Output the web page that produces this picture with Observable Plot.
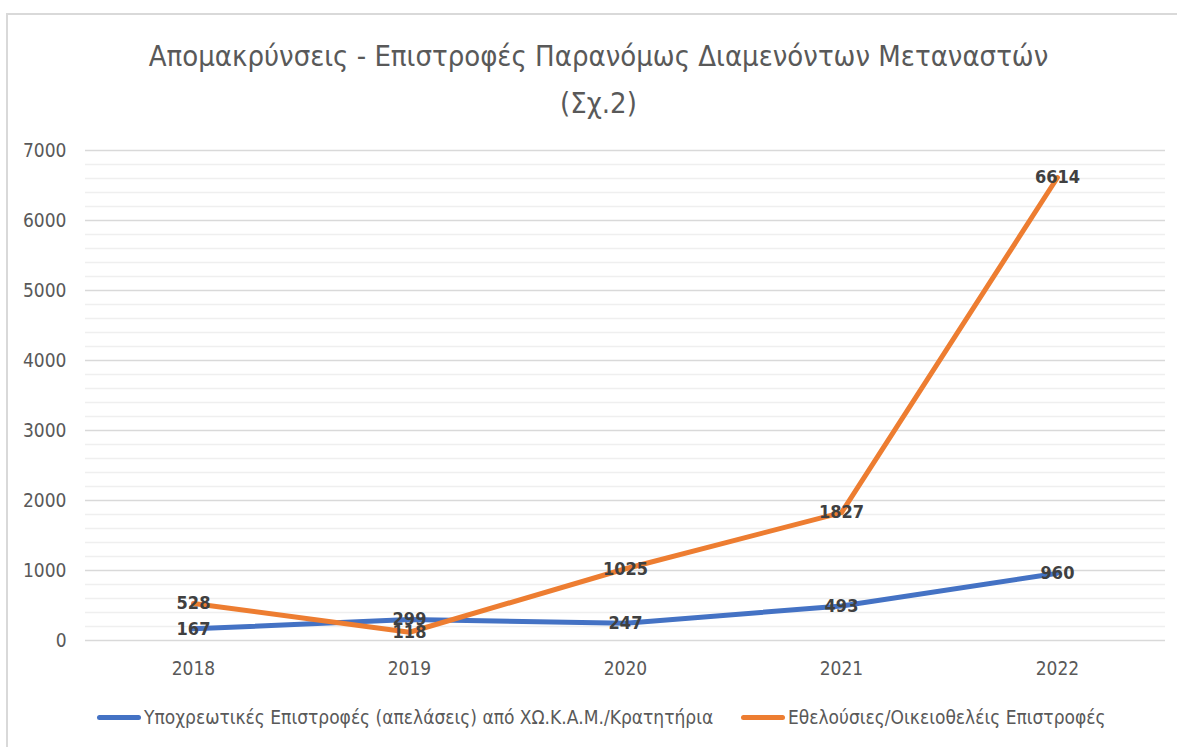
<!DOCTYPE html>
<html>
<head>
<meta charset="utf-8">
<script src="https://cdn.jsdelivr.net/npm/d3@7"></script>
<script src="https://cdn.jsdelivr.net/npm/@observablehq/plot@0.6"></script>
<style>
  html, body { margin: 0; padding: 0; background: #fff; }
  #wrap { position: relative; width: 1177px; height: 747px; overflow: hidden; }
  #frame { position: absolute; left: 6px; top: 13px; width: 1300px; height: 900px; border-top: 2px solid #d9d9d9; border-left: 2px solid #d9d9d9; }
  .title { position: absolute; left: 10px; width: 1177px; text-align: center; color: #595959;
           font-family: "Liberation Sans Narrow", "DejaVu Sans Condensed", "Open Sans", sans-serif; font-size: 29px; font-weight: 400; white-space: nowrap; }
  #chart { position: absolute; left: 0; top: 0; }
  .legend { position: absolute; top: 706px; font-family: "Liberation Sans Narrow", "DejaVu Sans Condensed", "Open Sans", sans-serif; font-size: 19px; color: #595959; white-space: nowrap; display: flex; align-items: center; }
  .sw { display: inline-block; width: 44px; height: 5px; border-radius: 3px; margin-right: 3px; }
</style>
</head>
<body>
<div id="wrap">
  <div id="frame"></div>
  <div id="chart"></div>
  <div class="title" id="t1" style="top:39px"></div>
  <div class="title" id="t2" style="top:86px"></div>
  <div class="legend" id="lg1" style="left:97px"></div>
  <div class="legend" id="lg2" style="left:741px"></div>
</div>
<script>
const titleLines = ["Απομακρύνσεις - Επιστροφές Παρανόμως Διαμενόντων Μεταναστών", "(Σχ.2)"];
const years = ["2018", "2019", "2020", "2021", "2022"];
const seriesNames = ["Υποχρεωτικές Επιστροφές  (απελάσεις) από ΧΩ.Κ.Α.Μ./Κρατητήρια", "Εθελούσιες/Οικειοθελέις Επιστροφές"];
const forcedReturns = [167, 299, 247, 493, 960];
const voluntaryReturns = [528, 118, 1025, 1827, 6614];
const yTicks = [0, 1000, 2000, 3000, 4000, 5000, 6000, 7000];
const colors = ["#4472C4", "#ED7D31"];

const data = [];
years.forEach((y, i) => data.push({year: y, value: forcedReturns[i], series: seriesNames[0]}));
years.forEach((y, i) => data.push({year: y, value: voluntaryReturns[i], series: seriesNames[1]}));
const minorTicks = d3.range(0, 7001, 200).filter(v => v % 1000 !== 0);

document.getElementById("t1").textContent = titleLines[0];
document.getElementById("t2").textContent = titleLines[1];
["lg1", "lg2"].forEach((id, i) => {
  const el = document.getElementById(id);
  const sw = document.createElement("span");
  sw.className = "sw"; sw.style.background = colors[i];
  el.appendChild(sw);
  el.appendChild(document.createTextNode(seriesNames[i]));
});

const font = "'Liberation Sans Narrow', 'DejaVu Sans Condensed', 'Open Sans', sans-serif";
const chart = Plot.plot({
  width: 1177,
  height: 700,
  marginTop: 150,
  marginBottom: 60,
  marginLeft: 85,
  marginRight: 12,
  style: {fontFamily: font, fontSize: "19px", color: "#595959", background: "transparent"},
  x: {type: "point", domain: years, padding: 0.5, label: null, tickSize: 0, tickPadding: 21},
  y: {domain: [0, 7000], ticks: yTicks, tickFormat: "d", label: null, tickSize: 0, tickPadding: 19},
  color: {domain: seriesNames, range: colors},
  marks: [
    Plot.ruleY(minorTicks, {stroke: "#efefef", strokeWidth: 1.3}),
    Plot.ruleY(yTicks, {stroke: "#d9d9d9", strokeWidth: 1.5}),
    Plot.line(data, {x: "year", y: "value", z: "series", stroke: "series", strokeWidth: 5, strokeLinecap: "round", strokeLinejoin: "round"}),
    Plot.text(data, {x: "year", y: "value", text: d => String(d.value), fill: "#404040", fontWeight: "bold", fontSize: 18, fontFamily: font})
  ]
});
document.getElementById("chart").appendChild(chart);
</script>
</body>
</html>
